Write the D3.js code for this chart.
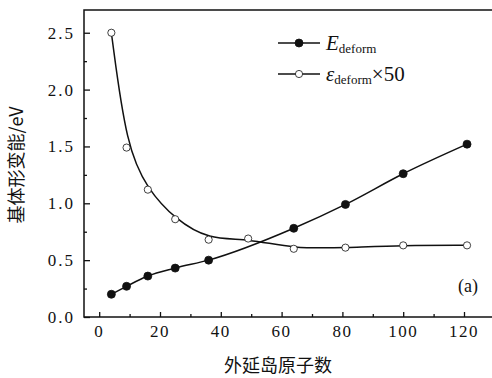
<!DOCTYPE html>
<html>
<head>
<meta charset="utf-8">
<script src="https://cdn.jsdelivr.net/npm/d3@7"></script>
<style>
  body { margin: 0; background: #fff; }
  text { font-family: "Liberation Serif", "DejaVu Serif", serif; fill: #111; }
  .cjk { font-family: "Noto Sans CJK SC", sans-serif; }
</style>
</head>
<body>
<svg id="chart"></svg>
<script>
// island atom counts
const atoms = [4, 9, 16, 25, 36, 49, 64, 81, 100, 121]
const atomsE = [4, 9, 16, 25, 36, 64, 81, 100, 121]
const eDeform = [0.20, 0.27, 0.36, 0.43, 0.50, 0.78, 0.99, 1.26, 1.52]
const epsDeform50 = [2.50, 1.49, 1.12, 0.86, 0.68, 0.69, 0.60, 0.61, 0.63, 0.63]
const xTicks = [0, 20, 40, 60, 80, 100, 120]
const yTicks = [0, 0.5, 1.0, 1.5, 2.0, 2.5]

const width = 492
const height = 378

const svg = d3.select('#chart')
  .attr('width', width)
  .attr('height', height)

const x = d3.scaleLinear().domain([-5, 130]).range([84, 494.4])
const y = d3.scaleLinear().domain([0, 2.7]).range([317, 10])

function drawFrame() {
  svg.append('rect')
    .attr('x', x(-5))
    .attr('y', y(2.7))
    .attr('width', x(130) - x(-5))
    .attr('height', y(0) - y(2.7))
    .attr('fill', 'none')
    .attr('stroke', '#111')
    .attr('stroke-width', 1.5)
}

function drawAxes() {
  // x axis ticks pointing inward
  const xAxis = d3.axisTop(x)
    .tickValues(xTicks)
    .tickSize(5)
    .tickFormat('')
  svg.append('g')
    .attr('transform', `translate(0,${y(0)})`)
    .call(xAxis)
    .call(g => g.select('.domain').remove())
    .call(g => g.selectAll('line').attr('stroke', '#111').attr('stroke-width', 1.3))

  const xMinor = d3.axisTop(x)
    .tickValues(d3.range(10, 130, 20))
    .tickSize(3)
    .tickFormat('')
  svg.append('g')
    .attr('transform', `translate(0,${y(0)})`)
    .call(xMinor)
    .call(g => g.select('.domain').remove())
    .call(g => g.selectAll('line').attr('stroke', '#111').attr('stroke-width', 1.3))

  svg.append('g').selectAll('text')
    .data(xTicks)
    .join('text')
    .attr('x', d => x(d))
    .attr('y', 337)
    .attr('text-anchor', 'middle')
    .attr('font-family', 'Liberation Serif')
    .attr('font-size', 17)
    .attr('letter-spacing', 1.5)
    .text(d => d)

  const yAxis = d3.axisRight(y)
    .tickValues(yTicks)
    .tickSize(6)
    .tickFormat('')
  svg.append('g')
    .attr('transform', `translate(${x(-5)},0)`)
    .call(yAxis)
    .call(g => g.select('.domain').remove())
    .call(g => g.selectAll('line').attr('stroke', '#111').attr('stroke-width', 1.3))

  const yMinor = d3.axisRight(y)
    .tickValues(d3.range(0.25, 2.7, 0.5))
    .tickSize(3)
    .tickFormat('')
  svg.append('g')
    .attr('transform', `translate(${x(-5)},0)`)
    .call(yMinor)
    .call(g => g.select('.domain').remove())
    .call(g => g.selectAll('line').attr('stroke', '#111').attr('stroke-width', 1.3))

  svg.append('g').selectAll('text')
    .data(yTicks)
    .join('text')
    .attr('x', 75)
    .attr('y', d => y(d))
    .attr('dy', '0.35em')
    .attr('text-anchor', 'end')
    .attr('font-family', 'Liberation Serif')
    .attr('font-size', 17)
    .attr('letter-spacing', 2)
    .text(d => d3.format('.1f')(d))

  // axis titles
  svg.append('text')
    .attr('class', 'cjk')
    .attr('x', 278)
    .attr('y', 372)
    .attr('text-anchor', 'middle')
    .attr('font-size', 18)
    .text('外延岛原子数')

  svg.append('text')
    .attr('class', 'cjk')
    .attr('transform', 'translate(23,165) rotate(-90)')
    .attr('text-anchor', 'middle')
    .attr('font-size', 18)
    .text('基体形变能/eV')
}

function drawSeries(xs, ys, curve, filled) {
  const pts = xs.map((d, i) => [d, ys[i]])
  const line = d3.line()
    .x(d => x(d[0]))
    .y(d => y(d[1]))
    .curve(curve)
  svg.append('path')
    .datum(pts)
    .attr('d', line)
    .attr('fill', 'none')
    .attr('stroke', '#111')
    .attr('stroke-width', 1.5)
  svg.append('g').selectAll('circle')
    .data(pts)
    .join('circle')
    .attr('cx', d => x(d[0]))
    .attr('cy', d => y(d[1]))
    .attr('r', filled ? 4 : 3.6)
    .attr('fill', filled ? '#111' : '#fff')
    .attr('stroke', '#111')
    .attr('stroke-width', 0.8)
}

function drawLegend() {
  const rows = [
    { y: 43, filled: true, sym: 'E', extra: '' },
    { y: 74, filled: false, sym: 'ε', extra: '×50' }
  ]
  const g = svg.append('g')
  rows.forEach(r => {
    g.append('line')
      .attr('x1', 278).attr('x2', 320)
      .attr('y1', r.y).attr('y2', r.y)
      .attr('stroke', '#111').attr('stroke-width', 1.5)
    g.append('circle')
      .attr('cx', 299).attr('cy', r.y)
      .attr('r', r.filled ? 4 : 3.6)
      .attr('fill', r.filled ? '#111' : '#fff')
      .attr('stroke', '#111').attr('stroke-width', 0.8)
    const t = g.append('text')
      .attr('x', 326)
      .attr('y', r.y + 7)
      .attr('font-size', 21)
    t.append('tspan').attr('font-style', 'italic').text(r.sym)
    t.append('tspan').attr('font-size', 13).attr('dy', 3).text('deform')
    if (r.extra) {
      t.append('tspan').attr('dy', -3).attr('font-size', 21).text(r.extra)
    }
  })
}

drawFrame()
drawAxes()
drawSeries(atomsE, eDeform, d3.curveMonotoneX, true)
drawSeries(atoms, epsDeform50, d3.curveBasis, false)
drawLegend()

svg.append('text')
  .attr('x', 478)
  .attr('y', 292)
  .attr('text-anchor', 'end')
  .attr('font-size', 18)
  .text('(a)')
</script>
</body>
</html>
